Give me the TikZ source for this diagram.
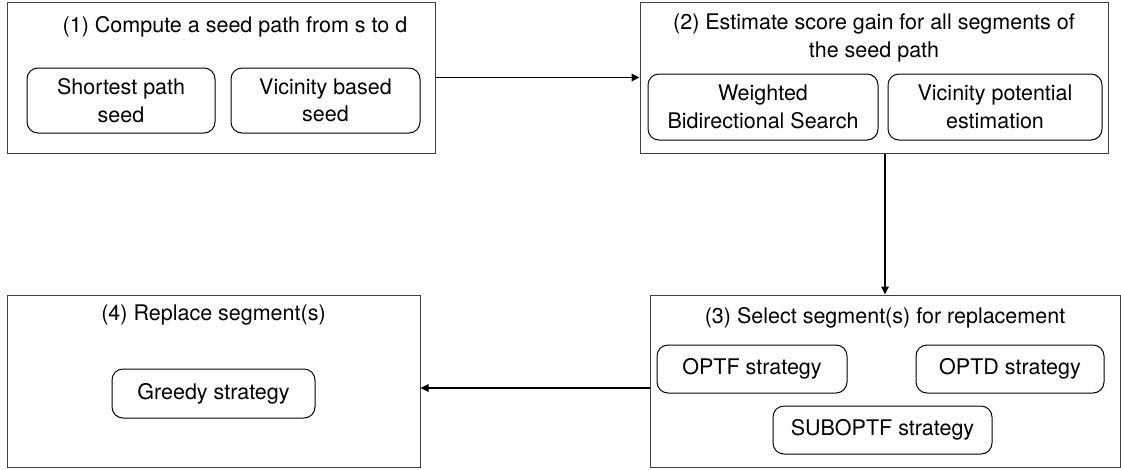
\documentclass[tikz,border=0pt]{standalone}
\usepackage{fontspec}
\setmainfont{TeX Gyre Heros}
\usetikzlibrary{arrows.meta}

\begin{document}
\begin{tikzpicture}[x=1pt,y=-1pt,
    font=\fontsize{21.5}{27.5}\selectfont,
    stage/.style={draw=black!75,line width=1pt,inner sep=0pt},
    method/.style={draw,line width=1pt,rounded corners=11pt,inner sep=0pt,align=center},
    title/.style={align=center,inner sep=0pt},
    arr/.style={line width=1.7pt,-{Triangle[length=8pt,width=7.5pt]}}]
        \useasboundingbox (0,0) rectangle (1121,469);
        % 第一步: 种子路径
        \node [stage,minimum width=428pt,minimum height=151pt] (seed) at (221,77.5) {};
        \node [title] (seedT) at (235,27) {(1) Compute a seed path from s to d};
        \node [method,minimum width=188pt,minimum height=65pt] (short) at (121,100.5) {Shortest path\\seed};
        \node [method,minimum width=189pt,minimum height=65pt] (vicin) at (325.5,100.5) {Vicinity based\\seed};

        % 第二步: 估计得分
        \node [stage,minimum width=468pt,minimum height=151pt] (gain) at (874,77.5) {};
        \node [title] (gainT) at (874,38) {(2) Estimate score gain for all segments of\\the seed path};
        \node [method,minimum width=230pt,minimum height=66pt] (wbs) at (763,107) {Weighted\\Bidirectional Search};
        \node [method,minimum width=214pt,minimum height=66pt] (pot) at (995,107) {Vicinity potential\\estimation};

        % 第三步: 选择片段
        \node [stage,minimum width=470pt,minimum height=172pt] (select) at (885,381) {};
        \node [title] (selectT) at (885,318) {(3) Select segment(s) for replacement};
        \node [method,minimum width=190pt,minimum height=48pt] (optf) at (752,369) {OPTF strategy};
        \node [method,minimum width=188pt,minimum height=48pt] (optd) at (1010,369) {OPTD strategy};
        \node [method,minimum width=219pt,minimum height=48pt] (sub) at (882.5,430) {SUBOPTF strategy};

        % 第四步: 替换
        \node [stage,minimum width=413pt,minimum height=172pt] (repl) at (213.5,381) {};
        \node [title] (replT) at (213.5,315) {(4) Replace segment(s)};
        \node [method,minimum width=203pt,minimum height=49pt] (greedy) at (213.5,393.5) {Greedy strategy};

        % 连接各步
        \draw [arr] (seed.east) -- (gain.west);
        \draw [arr] (gain.south -| select.north) -- (select.north);
        \draw [arr] ([yshift=-7pt]select.west) -- ([yshift=-7pt]repl.east);
    \end{tikzpicture}
\end{document}
